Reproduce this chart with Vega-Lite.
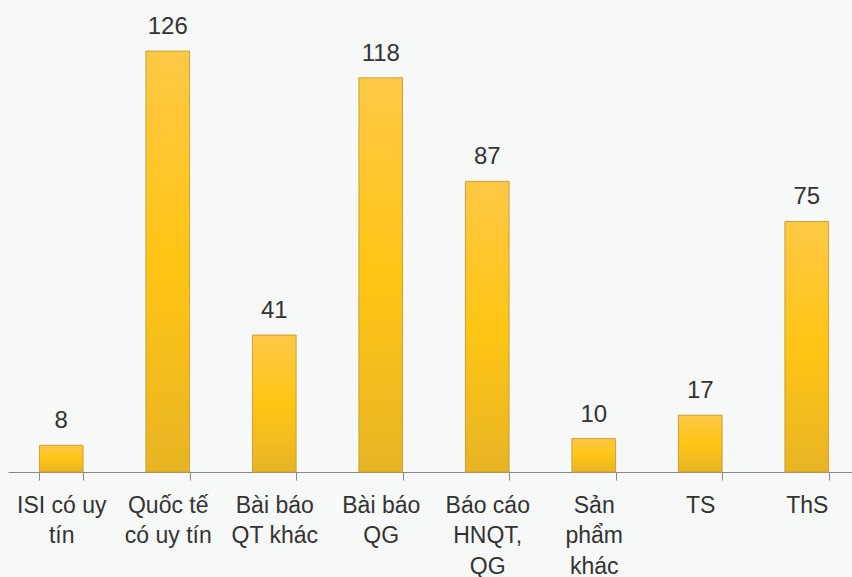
{
  "$schema": "https://vega.github.io/schema/vega-lite/v6.json",
  "width": 852,
  "height": 472,
  "autosize": {"type": "none"},
  "padding": {"left": 8, "top": 0, "right": 0, "bottom": 105},
  "background": "#f7f8f8",
  "config": {"view": {"stroke": null}, "font": "Liberation Sans"},
  "data": {"values": [
    {"cat": "ISI có uy|tín", "v": 8},
    {"cat": "Quốc tế|có uy tín", "v": 126},
    {"cat": "Bài báo|QT khác", "v": 41},
    {"cat": "Bài báo|QG", "v": 118},
    {"cat": "Báo cáo|HNQT,|QG", "v": 87},
    {"cat": "Sản|phẩm|khác", "v": 10},
    {"cat": "TS", "v": 17},
    {"cat": "ThS", "v": 75}
  ]},
  "encoding": {
    "x": {"field": "cat", "type": "nominal", "sort": null,
      "scale": {"range": [0, 852], "paddingInner": 0.59, "paddingOuter": 0.295},
      "axis": {"title": null, "labelAngle": 0, "labelExpr": "isValid(datum.value) ? split(datum.value, '|') : ''",
        "labelFontSize": 23, "labelColor": "#333333", "labelLineHeight": 30.5, "labelPadding": 14,
        "labelOverlap": false, "labelBound": false,
        "domainColor": "#8a8a8a", "tickColor": "#8a8a8a", "tickSize": 8, "tickBand": "extent",
        "labelFont": "Liberation Sans"}},
    "y": {"field": "v", "type": "quantitative", "scale": {"domain": [0, 141.3], "nice": false}, "axis": null}
  },
  "layer": [
    {"mark": {"type": "bar", "stroke": "#c9a23a", "strokeWidth": 1,
      "color": {"gradient": "linear", "x1": 0, "y1": 0, "x2": 0, "y2": 1,
        "stops": [{"offset": 0, "color": "#ffc845"}, {"offset": 0.5, "color": "#ffc514"}, {"offset": 1, "color": "#e8b424"}]}}},
    {"mark": {"type": "text", "dy": -17, "fontSize": 24, "color": "#333333", "baseline": "alphabetic"},
      "encoding": {"text": {"field": "v", "type": "quantitative"}}}
  ]
}
